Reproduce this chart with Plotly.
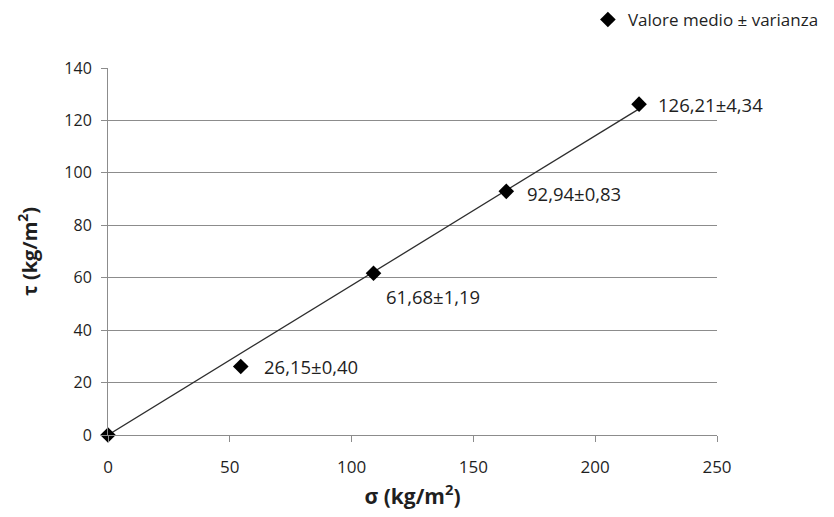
import plotly.graph_objects as go

sigma = [0, 54.5, 109, 163.5, 218]
tau = [0, 26.15, 61.68, 92.94, 126.21]
labels = ["", "26,15±0,40", "61,68±1,19", "92,94±0,83", "126,21±4,34"]
label_dx = [0, 21, 10, 19, 17]
label_dy = [0, 0, -23, -2, 0]
y_ticks = [0, 20, 40, 60, 80, 100, 120, 140]
x_ticks = [0, 50, 100, 150, 200, 250]

# trend line through origin (least squares)
slope = sum(x * y for x, y in zip(sigma, tau)) / sum(x * x for x in sigma)
trend_x = [0, max(sigma)]
trend_y = [slope * x for x in trend_x]

FONT = "Open Sans"
TXT = "#1f1f1f"
fig = go.Figure()
fig.add_trace(go.Scatter(x=trend_x, y=trend_y, mode="lines",
                         line=dict(color="#2e2e2e", width=1.3),
                         showlegend=False, hoverinfo="skip"))
fig.add_trace(go.Scatter(x=sigma, y=tau, mode="markers", name="Valore medio ± varianza",
                         marker=dict(symbol="diamond", size=12, color="black"),
                         cliponaxis=False))

for x, y, t, dx, dy in zip(sigma, tau, labels, label_dx, label_dy):
    if t:
        fig.add_annotation(x=x, y=y, text=t, showarrow=False, xanchor="left",
                           yanchor="middle", xshift=dx, yshift=dy,
                           font=dict(family=FONT, size=18.5, color=TXT))

fig.update_layout(
    width=834, height=517,
    margin=dict(l=100, r=125, t=60, b=90, autoexpand=False),
    paper_bgcolor="white", plot_bgcolor="white",
    font=dict(family=FONT, size=16, color=TXT),
    legend=dict(x=0.788, y=1.131, xanchor="left", yanchor="middle",
                font=dict(family=FONT, size=17, color=TXT),
                bgcolor="rgba(0,0,0,0)", itemwidth=30),
    xaxis=dict(range=[0, 250], tickvals=x_ticks, showgrid=False, zeroline=False,
               showline=True, linecolor="#8c8c8c", linewidth=1,
               ticks="outside", ticklen=6, tickcolor="#8c8c8c",
               ticklabelstandoff=11, tickfont=dict(size=17),
               title=dict(text="<b>σ (kg/m<sup>2</sup>)</b>", standoff=11,
                          font=dict(family=FONT, size=21, color=TXT))),
    yaxis=dict(range=[0, 140], tickvals=y_ticks, showgrid=True, gridcolor="#8c8c8c",
               gridwidth=1, zeroline=False, showline=True, linecolor="#8c8c8c",
               ticks="outside", ticklen=6, tickcolor="#8c8c8c",
               ticklabelstandoff=6, tickfont=dict(size=16),
               title=dict(text="<b>τ (kg/m<sup>2</sup>)</b>", standoff=21,
                          font=dict(family=FONT, size=20, color=TXT))),
)

fig.write_html("out.html")
